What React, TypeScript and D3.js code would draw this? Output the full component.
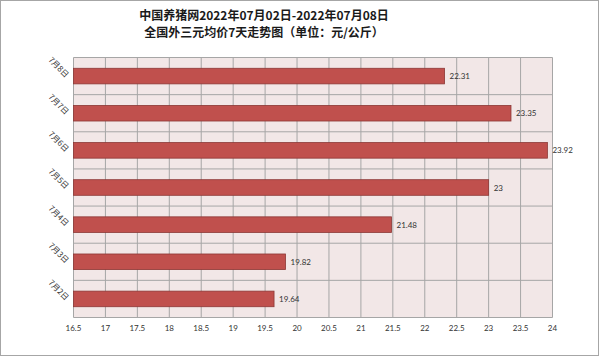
import React from "react";
import * as d3 from "d3";

const categories = ["7月8日", "7月7日", "7月6日", "7月5日", "7月4日", "7月3日", "7月2日"];
const values = [22.31, 23.35, 23.92, 23, 21.48, 19.82, 19.64];
const xTicks = [16.5, 17, 17.5, 18, 18.5, 19, 19.5, 20, 20.5, 21, 21.5, 22, 22.5, 23, 23.5, 24];
const titleLines = ["中国养猪网2022年07月02日-2022年07月08日", "全国外三元均价7天走势图（单位：元/公斤）"];

const W = 600, H = 357;
const plot = { left: 73.5, right: 552.5, top: 57.5, bottom: 317.5 };

export default function App() {
  const x = d3.scaleLinear().domain([16.5, 24]).range([plot.left, plot.right]);
  const y = d3
    .scaleBand<string>()
    .domain(categories)
    .range([plot.top, plot.bottom])
    .paddingInner(0.58)
    .paddingOuter(0.29);
  const step = y.step();
  const boundaries = d3.range(categories.length + 1).map((i) => plot.top + i * step);
  const cjk = "'Noto Sans CJK SC', sans-serif";
  const num = "Lato, 'Open Sans', sans-serif";

  return (
    <svg
      width={W}
      height={H}
      style={{ position: "absolute", left: 0, top: 0, display: "block", background: "#fff" }}
    >
      <rect x={0.5} y={0.5} width={W - 2} height={H - 2} fill="#fff" stroke="#a6a6a6" strokeWidth={1} />
      {titleLines.map((t, i) => (
        <text
          key={i}
          x={264}
          y={20 + i * 17}
          textAnchor="middle"
          fontFamily={cjk}
          fontWeight={600}
          fontSize={12}
          fill="#1a1a1a"
        >
          {t}
        </text>
      ))}
      <rect
        x={plot.left}
        y={plot.top}
        width={plot.right - plot.left}
        height={plot.bottom - plot.top}
        fill="#f2e7e7"
      />
      {xTicks.map((t) => (
        <line key={"v" + t} x1={x(t)} x2={x(t)} y1={plot.top} y2={plot.bottom} stroke="#a6a6a6" strokeWidth={1} />
      ))}
      {boundaries.map((b, i) => (
        <line key={"h" + i} x1={plot.left} x2={plot.right} y1={b} y2={b} stroke="#a6a6a6" strokeWidth={1} />
      ))}
      {categories.map((c, i) => (
        <g key={c}>
          <rect
            x={x(16.5)}
            y={y(c)!}
            width={x(values[i]) - x(16.5)}
            height={y.bandwidth()}
            fill="#c0504d"
            stroke="#8c3836"
            strokeWidth={0.8}
          />
          <text
            x={x(values[i]) + 5}
            y={y(c)! + y.bandwidth() / 2 + 3}
            fontFamily={num}
            fontSize={8}
            fill="#333"
          >
            {values[i]}
          </text>
          <text
            transform={`translate(${plot.left - 8},${y(c)! + y.bandwidth() / 2 + 2}) rotate(45)`}
            textAnchor="end"
            fontFamily={cjk}
            fontSize={8}
            fill="#333"
          >
            {c}
          </text>
        </g>
      ))}
      {xTicks.map((t) => (
        <text
          key={"t" + t}
          x={x(t)}
          y={331}
          textAnchor="middle"
          fontFamily={num}
          fontSize={8}
          fill="#333"
        >
          {t}
        </text>
      ))}
    </svg>
  );
}
